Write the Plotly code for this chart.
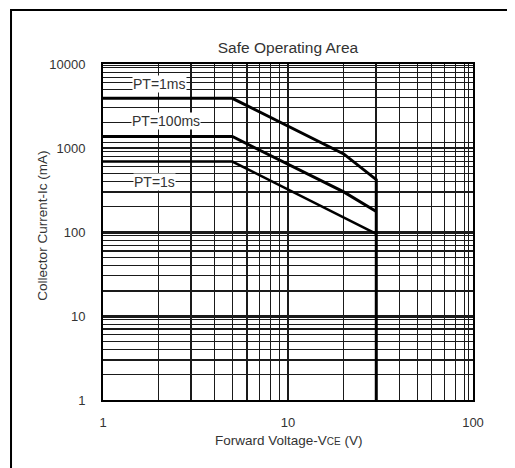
import math
import plotly.graph_objects as go

# ---- data ----
pt_1ms_v = [1, 5, 20, 30, 30]
pt_1ms_i = [3900, 3900, 850, 420, 1]
pt_100ms_v = [1, 5, 20, 30]
pt_100ms_i = [1370, 1370, 300, 175]
pt_1s_v = [1, 5, 30]
pt_1s_i = [690, 690, 95]

labels = ["PT=1ms", "PT=100ms", "PT=1s"]
label_v = [2.01, 2.18, 1.89]
label_i = [5825, 2114, 397]

x_major = [1, 3, 6, 10, 30, 100]
x_major_text = ["1", "", "", "10", "", "100"]
x_minor = [2, 4, 5, 7, 8, 9, 20, 40, 50, 60, 70, 80, 90, 95]
y_major = [1, 3, 7, 10, 20, 60, 100, 300, 1000, 10000]
y_major_text = ["1", "", "", "10", "", "", "100", "", "1000", "10000"]
y_minor = [2, 4, 5, 6, 8, 9, 9.5, 30, 40, 50, 70, 80, 90, 95,
           200, 400, 500, 600, 700, 800, 900, 1150, 2000, 3000, 4000,
           5000, 6000, 7000, 8000, 9000, 9500]

FONT = "Arial, Liberation Sans, sans-serif"
TXT = "#333333"
GRID = "#1a1a1a"

fig = go.Figure()
for xs, ys, w in [(pt_1ms_v, pt_1ms_i, 3), (pt_100ms_v, pt_100ms_i, 3), (pt_1s_v, pt_1s_i, 2.5)]:
    fig.add_trace(go.Scatter(x=xs, y=ys, mode="lines",
                             line=dict(color="black", width=w),
                             showlegend=False, hoverinfo="skip"))

# annotations on log axes are positioned in log10 units
for t, xv, yv in zip(labels, label_v, label_i):
    fig.add_annotation(x=math.log10(xv), y=math.log10(yv), xref="x", yref="y",
                       text=t, showarrow=False,
                       font=dict(family=FONT, size=14, color=TXT),
                       bgcolor="white", borderpad=0, xanchor="center", yanchor="middle")

fig.update_xaxes(type="log", range=[0, 2],
                 tickmode="array", tickvals=x_major, ticktext=x_major_text,
                 showgrid=True, gridcolor=GRID, gridwidth=1.8,
                 minor=dict(tickmode="array", tickvals=x_minor, showgrid=True,
                            gridcolor=GRID, gridwidth=1),
                 showline=True, mirror=True, linecolor="black", linewidth=2,
                 ticks="", ticklabelstandoff=9, zeroline=False,
                 tickfont=dict(family=FONT, size=13, color=TXT))
fig.update_yaxes(type="log", range=[0, 4],
                 tickmode="array", tickvals=y_major, ticktext=y_major_text,
                 showgrid=True, gridcolor=GRID, gridwidth=1.8,
                 minor=dict(tickmode="array", tickvals=y_minor, showgrid=True,
                            gridcolor=GRID, gridwidth=1),
                 showline=True, mirror=True, linecolor="black", linewidth=2,
                 ticks="", ticklabelstandoff=13, zeroline=False,
                 tickfont=dict(family=FONT, size=13, color=TXT))

# axis titles and chart title
fig.add_annotation(xref="paper", yref="paper", x=0.5, y=-0.122,
                   text="Forward Voltage-V<span style='font-size:10px'>CE</span> (V)",
                   showarrow=False, font=dict(family=FONT, size=13.5, color=TXT),
                   xanchor="center", yanchor="middle")
fig.add_annotation(xref="paper", yref="paper", x=-0.163, y=0.518,
                   text="Collector Current-Ic (mA)", textangle=-90,
                   showarrow=False, font=dict(family=FONT, size=13.5, color=TXT),
                   xanchor="center", yanchor="middle")

# page body has an 8px margin, so margins are reduced by 8px on left/top
fig.update_layout(
    width=515, height=468, autosize=False,
    margin=dict(l=95, r=50, t=56, b=76),
    paper_bgcolor="white", plot_bgcolor="white",
    title=dict(text="Safe Operating Area", x=0.5, xref="paper",
               y=(468 - 40) / 468, yref="container", xanchor="center", yanchor="middle",
               font=dict(family=FONT, size=15.5, color=TXT)),
    shapes=[dict(type="path", xref="paper", yref="paper",
                 path="M -0.2486 -0.3 L -0.2486 1.1607 L 1.3 1.1607",
                 line=dict(color="black", width=2))],
)

fig.write_html("out.html")
